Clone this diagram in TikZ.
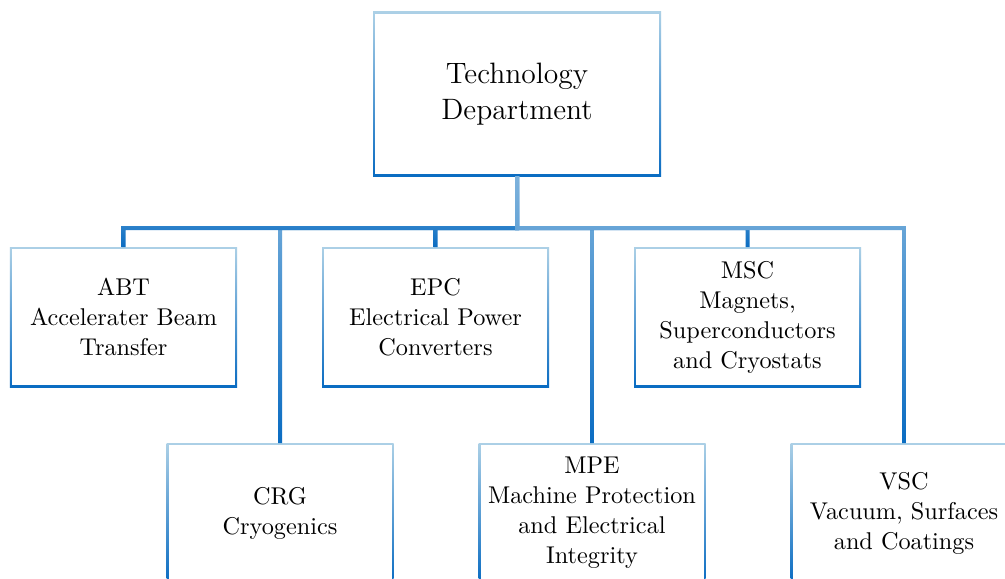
\documentclass[tikz,border=0pt]{standalone}
\usepackage{fontspec}
\usetikzlibrary{calc}
\definecolor{lb}{RGB}{172,208,230}
\definecolor{db}{RGB}{10,108,194}
\definecolor{cl}{RGB}{125,178,220}
\tikzset{
  orgbox/.style 2 args={rectangle, inner sep=0pt, outer sep=0pt, align=center,
    minimum width=#1, minimum height=#2, top color=lb, bottom color=db,
    path picture={\fill[white] ([shift={(0.8pt,-0.8pt)}]path picture bounding box.north west)
      rectangle ([shift={(-0.8pt,0.8pt)}]path picture bounding box.south east);}},
  unitbox/.style={orgbox={90.8pt}{56pt}, font=\fontsize{9.7pt}{12pt}\selectfont},
  conn/.style={top color=cl, bottom color=db, draw=none}
}
\def\cw{0.8pt}
\newcommand\orgconn[3]{%
  \shade[conn] let \p1=(#1.south), \p2=(#2.north), \p3=(bus) in
  ({\x1+(#3)*\cw},\y1) -- ({\x1-(#3)*\cw},\y1) -- ({\x1-(#3)*\cw},{\y3-\cw})
  -- ({\x2-(#3)*\cw},{\y3-\cw}) -- ({\x2-(#3)*\cw},\y2) -- ({\x2+(#3)*\cw},\y2)
  -- ({\x2+(#3)*\cw},{\y3+\cw}) -- ({\x1+(#3)*\cw},{\y3+\cw}) -- cycle;}
\begin{document}
\begin{tikzpicture}[x=0.4pt,y=-0.4pt]
\clip (0,0) rectangle (1005,579);
\fill[white] (0,0) rectangle (1005,579);
\node[orgbox={115.2pt}{65.6pt}, font=\fontsize{11.8pt}{14.4pt}\selectfont] (top) at (517,94) {Technology\\Department};
\coordinate (bus) at (517,228);
\node[unitbox] (abt) at (123.5,317) {ABT\\Accelerater Beam\\Transfer};
\node[unitbox] (epc) at (435.5,317) {EPC\\Electrical Power\\Converters};
\node[unitbox] (msc) at (747.5,317) {MSC\\Magnets,\\Superconductors\\and Cryostats};
\node[unitbox] (crg) at (280,513) {CRG\\Cryogenics};
\node[unitbox] (mpe) at (592,513) {MPE\\Machine Protection\\and Electrical\\Integrity};
\node[unitbox] (vsc) at (904,513) {VSC\\Vacuum, Surfaces\\and Coatings};
\orgconn{top}{crg}{-1}
\orgconn{top}{abt}{-1}
\orgconn{top}{epc}{-1}
\orgconn{top}{mpe}{1}
\orgconn{top}{msc}{1}
\orgconn{top}{vsc}{1}
\end{tikzpicture}
\end{document}
